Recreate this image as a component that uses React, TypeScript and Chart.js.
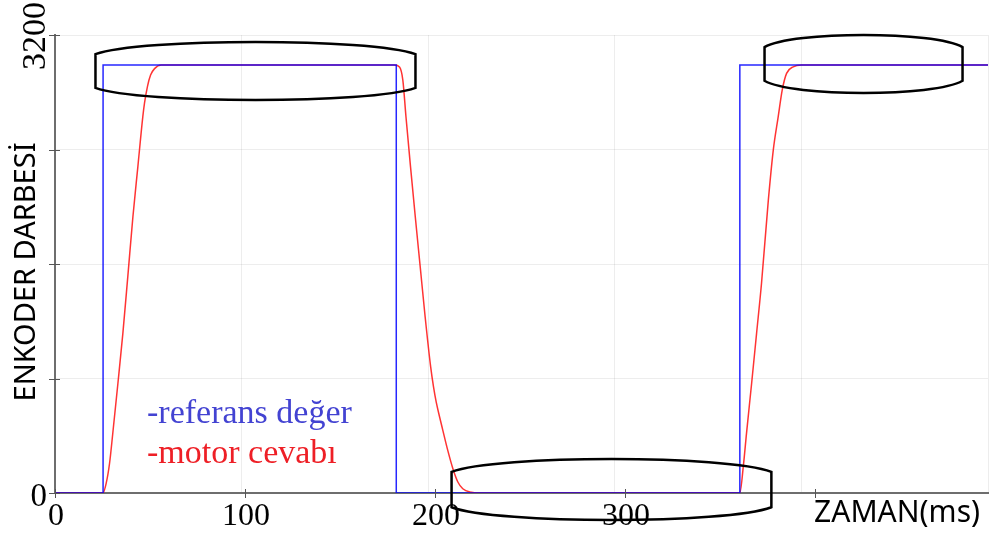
import React, { useEffect, useRef } from "react";
import { Chart, registerables } from "chart.js";

Chart.register(...registerables);

// ---- data (time in ms, value in encoder pulses) ----
const refTime = [0, 25.3, 25.3, 179.6, 179.6, 360.4, 360.4, 491];
const refValue = [0, 0, 2990, 2990, 0, 0, 2990, 2990];

const motorTime = [
  0, 25.2, 26.9, 28.7, 30.4, 33.1, 35.7, 38.3, 41.0, 43.6, 46.2, 47.1, 48.7, 50.3, 52.4, 55.9,
  178.7, 181.3, 183.05, 184.7, 187.1, 189.6, 192.2, 194.8, 197.7, 199.2, 200.6, 202.4, 204.1, 206.7, 209.4, 212.0, 214.6, 219.1, 222.6,
  360.4, 362.2, 363.9, 366.6, 369.2, 371.8, 375.4, 378, 380.6, 382.7, 385, 388.5, 392.9, 491,
];
const motorValue = [
  0, 0, 66, 206, 416, 765, 1114, 1510, 1930, 2279, 2628, 2724, 2843, 2920, 2965, 2990,
  2990, 2976, 2885, 2629, 2279, 1930, 1580, 1230, 881, 741, 636, 531, 438, 298, 170, 77, 30, 5, 0,
  0, 182, 415, 765, 1114, 1464, 2046, 2396, 2629, 2815, 2932, 2978, 2990, 2990,
];

const greenTime = [0, 13];
const greenValue = [0, 0];

const xTicks = [0, 100, 200, 300];
const xTickLabels = ["0", "100", "200", "300"];
const xTitleAt = 400;
const xTitle = "ZAMAN(ms)";
const yTicks = [0, 800, 1600, 2400, 3200];
const yTickLabelBottom = "0";
const yTickLabelTop = "3200";
const yTitle = "ENKODER DARBESİ";
const legendLabels = ["-referans değer", "-motor cevabı"];

// annotation ellipses in data units: [xStart, xEnd, yTop, yBottom]
const ellipseX0 = [21.3, 208.7, 373.4];
const ellipseX1 = [189.7, 377, 477.6];
const ellipseYTop = [3151, 237, 3200];
const ellipseYBottom = [2746, -189, 2795];

const toXY = (xs: number[], ys: number[]) => xs.map((x, i) => ({ x, y: ys[i] }));

const overlay = {
  id: "overlay",
  afterDraw(chart: any) {
    const ctx = chart.ctx as CanvasRenderingContext2D;
    const xs = chart.scales.x;
    const ys = chart.scales.y;
    const ca = chart.chartArea;
    ctx.save();

    // tick marks
    ctx.strokeStyle = "#555";
    ctx.lineWidth = 1;
    for (const v of yTicks) {
      const py = Math.round(ys.getPixelForValue(v)) + 0.5;
      ctx.beginPath();
      ctx.moveTo(ca.left - 6, py);
      ctx.lineTo(ca.left + 5, py);
      ctx.stroke();
    }
    for (const v of [...xTicks, xTitleAt]) {
      const px = Math.round(xs.getPixelForValue(v)) + 0.5;
      ctx.beginPath();
      ctx.moveTo(px, ca.bottom - 4);
      ctx.lineTo(px, ca.bottom + 5);
      ctx.stroke();
    }

    // x tick labels
    ctx.fillStyle = "#000";
    ctx.font = "32px 'Liberation Serif'";
    ctx.textAlign = "center";
    ctx.textBaseline = "alphabetic";
    xTicks.forEach((v, i) => {
      ctx.fillText(xTickLabels[i], xs.getPixelForValue(v) + 1, ca.bottom + 32);
    });

    // x title at 400 position
    ctx.font = "30px 'Noto Sans'";
    ctx.textAlign = "left";
    ctx.fillText(xTitle, xs.getPixelForValue(xTitleAt) - 1, ca.bottom + 29);

    // y labels
    ctx.font = "33px 'Liberation Serif'";
    ctx.textAlign = "right";
    ctx.fillText(yTickLabelBottom, ca.left - 8, ys.getPixelForValue(0) + 13);
    ctx.save();
    ctx.translate(ca.left - 10, ys.getPixelForValue(3200) + 1);
    ctx.rotate(-Math.PI / 2);
    ctx.textAlign = "center";
    ctx.font = "34px 'Liberation Serif'";
    ctx.fillText(yTickLabelTop, 0, 0);
    ctx.restore();

    // y title
    ctx.save();
    ctx.translate(27, (ca.top + ca.bottom) / 2 + 8);
    ctx.rotate(-Math.PI / 2);
    ctx.textAlign = "center";
    ctx.textBaseline = "middle";
    ctx.font = "29px 'Noto Sans'";
    ctx.fillText(yTitle, 0, 0);
    ctx.restore();

    // legend-like labels
    ctx.textAlign = "left";
    ctx.textBaseline = "alphabetic";
    ctx.font = "34px 'Liberation Serif'";
    ctx.fillStyle = "#4343d2";
    ctx.fillText(legendLabels[0], ca.left + 92, 423);
    ctx.fillStyle = "#ee1f26";
    ctx.fillText(legendLabels[1], ca.left + 92, 463);

    // annotation ellipses
    ctx.strokeStyle = "#000";
    ctx.lineWidth = 2.5;
    for (let i = 0; i < ellipseX0.length; i++) {
      const L = xs.getPixelForValue(ellipseX0[i]);
      const R = xs.getPixelForValue(ellipseX1[i]);
      const T = ys.getPixelForValue(ellipseYTop[i]);
      const B = ys.getPixelForValue(ellipseYBottom[i]);
      const H = B - T;
      const W = R - L;
      const s1 = T + H * 0.21;
      const s2 = B - H * 0.21;
      const k1 = (s1 - T) / 0.75;
      const k2 = (B - s2) / 0.75;
      const dx = W * 0.14;
      ctx.beginPath();
      ctx.moveTo(L, s1);
      ctx.bezierCurveTo(L + dx, s1 - k1, R - dx, s1 - k1, R, s1);
      ctx.lineTo(R, s2);
      ctx.bezierCurveTo(R - dx, s2 + k2, L + dx, s2 + k2, L, s2);
      ctx.closePath();
      ctx.stroke();
    }
    ctx.restore();
  },
};

export default function App() {
  const ref = useRef<HTMLCanvasElement | null>(null);
  useEffect(() => {
    if (!ref.current) return;
    const grid = { color: "rgba(0,0,0,0.07)", drawTicks: false, lineWidth: 1 };
    const border = { display: true, color: "#6e6e6e", width: 2 };
    const chart = new Chart(ref.current, {
      type: "line",
      data: {
        datasets: [
          {
            label: "referans",
            data: toXY(refTime, refValue),
            borderColor: "rgba(0,0,255,0.85)",
            borderWidth: 1.5,
            pointRadius: 0,
            tension: 0,
          },
          {
            label: "motor",
            data: toXY(motorTime, motorValue),
            borderColor: "rgba(255,0,0,0.8)",
            borderWidth: 1.5,
            pointRadius: 0,
            cubicInterpolationMode: "monotone",
          },
          {
            label: "start",
            data: toXY(greenTime, greenValue),
            borderColor: "#5f8f2a",
            borderWidth: 1.5,
            pointRadius: 0,
          },
        ],
      },
      options: {
        animation: false,
        responsive: false,
        devicePixelRatio: 1,
        layout: { padding: { left: 55, top: 35, right: 4, bottom: 44 } },
        plugins: { legend: { display: false }, tooltip: { enabled: false } },
        scales: {
          x: {
            type: "linear",
            min: 0,
            max: 491,
            ticks: { display: false, stepSize: 100 },
            grid,
            border,
          },
          y: {
            type: "linear",
            min: 0,
            max: 3200,
            ticks: { display: false, stepSize: 800 },
            grid,
            border,
          },
        },
      },
      plugins: [overlay],
    } as any);
    return () => chart.destroy();
  }, []);
  return (
    <div style={{ position: "fixed", left: 0, top: 0, width: 992, height: 537, background: "#fff" }}>
      <canvas ref={ref} width={992} height={537} style={{ display: "block" }} />
    </div>
  );
}
